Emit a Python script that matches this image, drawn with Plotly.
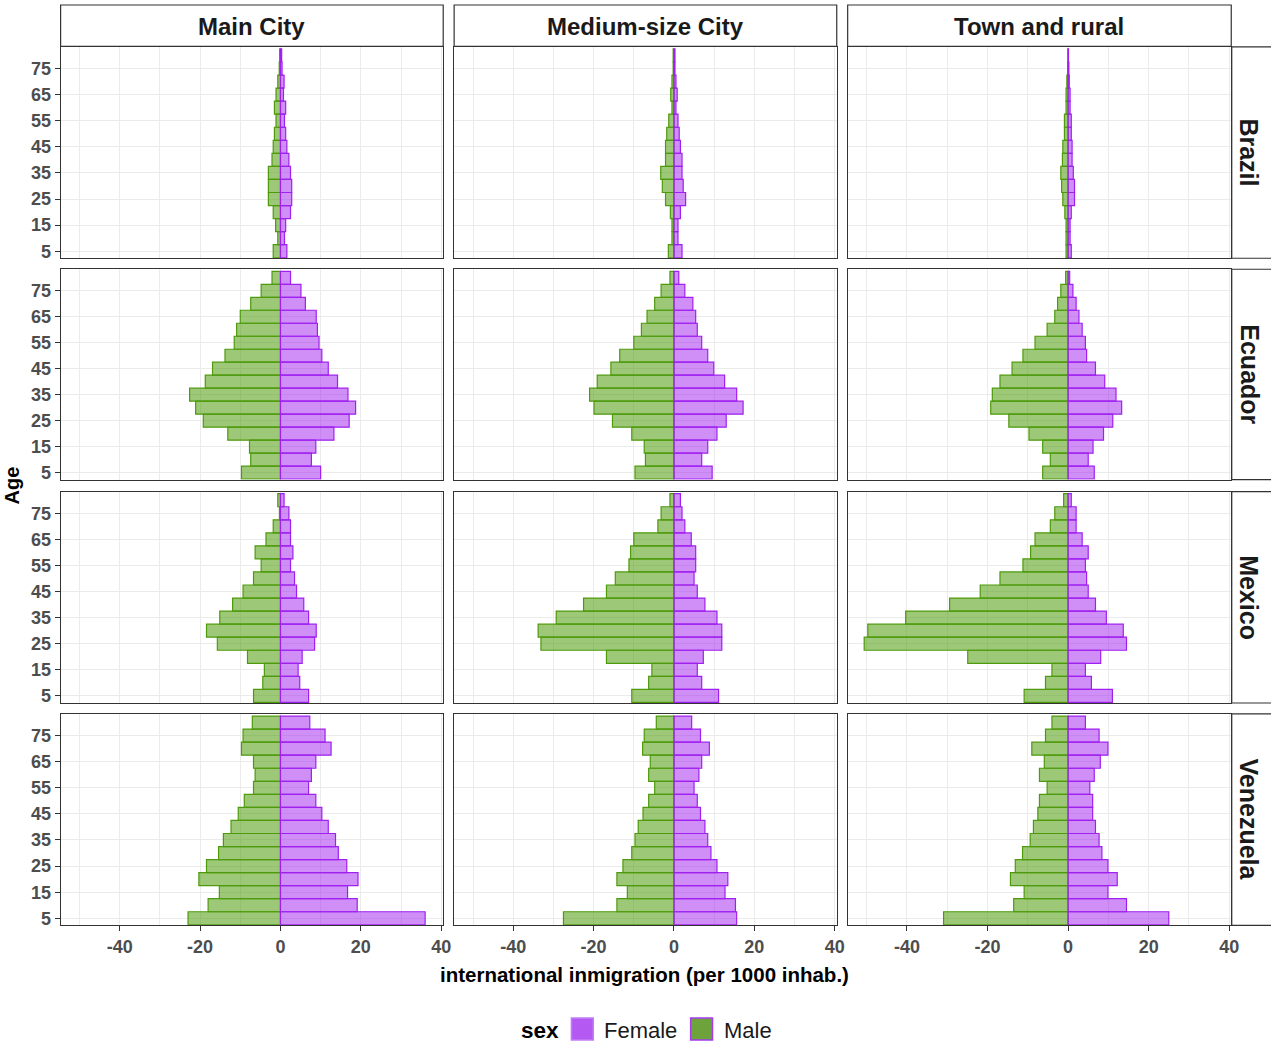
import plotly.graph_objects as go

# ---------------- data ----------------
ages = [5, 10, 15, 20, 25, 30, 35, 40, 45, 50, 55, 60, 65, 70, 75, 80]
countries = ["Brazil", "Ecuador", "Mexico", "Venezuela"]
areas = ["Main City", "Medium-size City", "Town and rural"]

brazil_main_male = [-1.8, -0.66, -1.2, -1.8, -3.0, -3.0, -3.0, -2.1, -1.8, -1.5, -1.1, -1.5, -1.1, -0.66, -0.3, -0.2]
brazil_main_female = [1.6, 1.0, 1.3, 2.5, 2.8, 2.8, 2.5, 2.1, 1.6, 1.3, 1.0, 1.3, 0.75, 0.9, 0.4, 0.3]
brazil_medium_male = [-1.4, -0.5, -0.5, -0.9, -2.1, -2.9, -3.3, -2.1, -2.1, -1.8, -1.3, -0.5, -0.8, -0.5, -0.2, -0.2]
brazil_medium_female = [2.0, 1.0, 1.0, 1.6, 2.9, 2.3, 2.0, 2.0, 1.6, 1.3, 1.0, 0.5, 0.8, 0.5, 0.25, 0.25]
brazil_town_male = [-0.5, -0.5, -0.5, -0.8, -1.3, -1.6, -1.8, -1.4, -1.3, -0.9, -0.9, -0.5, -0.5, -0.3, -0.1, -0.05]
brazil_town_female = [0.8, 0.5, 0.5, 0.8, 1.6, 1.6, 1.3, 1.0, 1.0, 0.8, 0.8, 0.5, 0.5, 0.3, 0.2, 0.1]

ecuador_main_male = [-9.7, -7.4, -7.7, -13.1, -19.2, -21.1, -22.6, -18.7, -16.9, -13.8, -11.5, -10.9, -10.0, -7.4, -4.8, -2.1]
ecuador_main_female = [10.0, 7.7, 8.8, 13.3, 17.1, 18.7, 16.8, 14.2, 11.9, 10.3, 9.6, 9.2, 8.9, 6.2, 5.1, 2.5]
ecuador_medium_male = [-9.7, -7.1, -7.4, -10.5, -15.3, -19.9, -21.0, -19.1, -15.7, -13.5, -10.0, -8.1, -6.7, -4.8, -3.2, -1.0]
ecuador_medium_female = [9.5, 6.9, 8.4, 10.7, 13.0, 17.2, 15.6, 12.6, 9.9, 8.4, 6.9, 5.8, 5.4, 4.7, 2.7, 1.2]
ecuador_town_male = [-6.3, -4.4, -6.3, -9.7, -14.7, -19.2, -18.8, -16.9, -13.9, -11.2, -8.2, -5.2, -3.3, -2.6, -1.8, -0.6]
ecuador_town_female = [6.5, 5.0, 6.2, 8.8, 11.1, 13.3, 11.9, 9.1, 6.8, 4.6, 4.3, 3.5, 2.7, 2.0, 1.2, 0.4]

mexico_main_male = [-6.7, -4.4, -4.0, -8.2, -15.7, -18.4, -15.1, -11.9, -9.3, -6.7, -4.8, -6.3, -3.6, -1.8, -0.25, -0.66]
mexico_main_female = [7.0, 4.8, 4.4, 5.4, 8.5, 8.9, 7.0, 5.8, 4.0, 3.5, 2.5, 3.1, 2.5, 2.5, 2.1, 0.9]
mexico_medium_male = [-10.5, -6.3, -5.5, -16.8, -33.1, -33.8, -29.3, -22.5, -16.8, -14.6, -11.2, -10.8, -10.0, -4.0, -3.2, -1.0]
mexico_medium_female = [11.1, 6.9, 5.8, 7.3, 11.9, 11.9, 10.7, 7.7, 5.8, 5.0, 5.4, 5.4, 4.3, 2.7, 2.0, 1.6]
mexico_town_male = [-10.9, -5.6, -4.0, -24.9, -50.6, -49.7, -40.3, -29.4, -21.8, -16.9, -11.2, -9.3, -8.2, -4.4, -3.3, -1.1]
mexico_town_female = [11.0, 5.8, 4.3, 8.1, 14.5, 13.7, 9.5, 6.8, 5.0, 4.6, 4.3, 5.0, 3.5, 2.0, 2.0, 0.8]

venezuela_main_male = [-23.0, -18.0, -15.2, -20.3, -18.4, -15.4, -14.2, -12.3, -10.5, -9.0, -6.7, -6.3, -6.7, -9.7, -9.3, -7.0]
venezuela_main_female = [36.0, 19.1, 16.7, 19.3, 16.5, 14.4, 13.7, 11.9, 10.3, 8.8, 7.0, 7.7, 8.8, 12.6, 11.1, 7.3]
venezuela_medium_male = [-27.5, -14.2, -11.6, -14.2, -12.7, -10.5, -9.7, -8.9, -7.7, -6.3, -4.8, -6.3, -5.9, -7.8, -7.4, -4.4]
venezuela_medium_female = [15.6, 15.3, 12.7, 13.4, 10.7, 9.2, 8.4, 7.7, 6.6, 5.8, 5.0, 6.2, 6.9, 8.8, 6.6, 4.4]
venezuela_town_male = [-30.9, -13.5, -10.9, -14.3, -13.1, -11.3, -9.4, -8.6, -7.5, -7.1, -5.2, -7.1, -5.9, -9.0, -5.6, -4.0]
venezuela_town_female = [25.0, 14.5, 9.9, 12.2, 9.9, 8.4, 7.7, 6.8, 6.1, 6.1, 5.4, 6.5, 8.0, 9.9, 7.7, 4.3]

male = [
    [brazil_main_male, brazil_medium_male, brazil_town_male],
    [ecuador_main_male, ecuador_medium_male, ecuador_town_male],
    [mexico_main_male, mexico_medium_male, mexico_town_male],
    [venezuela_main_male, venezuela_medium_male, venezuela_town_male],
]
female = [
    [brazil_main_female, brazil_medium_female, brazil_town_female],
    [ecuador_main_female, ecuador_medium_female, ecuador_town_female],
    [mexico_main_female, mexico_medium_female, mexico_town_female],
    [venezuela_main_female, venezuela_medium_female, venezuela_town_female],
]

x_tickvals = [-40, -20, 0, 20, 40]
x_ticktext = ["-40", "-20", "0", "20", "40"]
x_minor = [-50, -30, -10, 10, 30]
y_tickvals = [5, 15, 25, 35, 45, 55, 65, 75]
y_ticktext = ["5", "15", "25", "35", "45", "55", "65", "75"]

# ---------------- layout geometry ----------------
W, H = 1279, 1046
col_px = [(61, 446), (457, 842), (853, 1239)]
row_px = [(47, 259), (270, 481), (493, 705), (716, 928)]
XR = [-54.7, 40.5]
YR = [2.3, 83.3]

FONT = "Liberation Sans, Arial, sans-serif"
MALE_FILL = "rgba(77,154,10,0.55)"
MALE_LINE = "#4E9A0C"
FEM_FILL = "rgba(160,32,240,0.5)"
FEM_LINE = "#A020F0"
TICK_FONT = dict(family=FONT, size=18, color="#4D4D4D", weight="bold")

def px_x(p):
    return p / W

def px_y(p):
    return 1 - p / H

fig = go.Figure()
layout = dict(
    width=W, height=H, autosize=False,
    margin=dict(l=0, r=0, t=0, b=0),
    paper_bgcolor="white", plot_bgcolor="white",
    barmode="overlay", showlegend=False,
    font=dict(family=FONT, color="#1A1A1A"),
)

for r in range(4):
    for c in range(3):
        k = r * 3 + c + 1
        xa = "x" if k == 1 else f"x{k}"
        ya = "y" if k == 1 else f"y{k}"
        fig.add_trace(go.Bar(
            x=male[r][c], y=ages, orientation="h", width=5,
            marker=dict(color=MALE_FILL, line=dict(color=MALE_LINE, width=1.2)),
            xaxis=xa, yaxis=ya, name="Male", showlegend=False,
        ))
        fig.add_trace(go.Bar(
            x=female[r][c], y=ages, orientation="h", width=5,
            marker=dict(color=FEM_FILL, line=dict(color=FEM_LINE, width=1.2)),
            xaxis=xa, yaxis=ya, name="Female", showlegend=False,
        ))
        bottom = (r == 3)
        left = (c == 0)
        layout["xaxis" if k == 1 else f"xaxis{k}"] = dict(
            domain=[px_x(col_px[c][0]), px_x(col_px[c][1])],
            anchor=ya, range=XR, fixedrange=True,
            tickmode="array", tickvals=x_tickvals, ticktext=x_ticktext,
            showticklabels=bottom,
            ticks="outside" if bottom else "", ticklen=5, tickwidth=1, tickcolor="#333333",
            tickfont=TICK_FONT,
            showgrid=True, gridcolor="#EBEBEB", gridwidth=1.2,
            minor=dict(tickvals=x_minor, showgrid=True, gridcolor="#EBEBEB", gridwidth=1.2, ticks=""),
            zeroline=False,
            showline=True, mirror=True, linecolor="#333333", linewidth=1.2,
        )
        layout["yaxis" if k == 1 else f"yaxis{k}"] = dict(
            domain=[px_y(row_px[r][1]), px_y(row_px[r][0])],
            anchor=xa, range=YR, fixedrange=True,
            tickmode="array", tickvals=y_tickvals, ticktext=y_ticktext,
            showticklabels=left,
            ticks="outside" if left else "", ticklen=5, tickwidth=1, tickcolor="#333333",
            tickfont=TICK_FONT,
            showgrid=True, gridcolor="#EBEBEB", gridwidth=1.2,
            zeroline=False,
            showline=True, mirror=True, linecolor="#333333", linewidth=1.2,
        )

shapes = []
annotations = []
# top strips
for c in range(3):
    shapes.append(dict(type="rect", xref="paper", yref="paper",
                       x0=px_x(col_px[c][0]), x1=px_x(col_px[c][1]),
                       y0=px_y(46.5), y1=px_y(5),
                       fillcolor="white", line=dict(color="#333333", width=1.2), layer="below"))
    annotations.append(dict(text=f"<b>{areas[c]}</b>", xref="paper", yref="paper",
                            x=px_x((col_px[c][0] + col_px[c][1]) / 2), y=px_y(27),
                            xanchor="center", yanchor="middle", showarrow=False,
                            font=dict(family=FONT, size=24, color="#1A1A1A")))
# right strips (open on the right edge, which is cut in the original)
for r in range(4):
    xl = px_x(1239.5)
    xr = 1.0
    yb = px_y(row_px[r][1])
    yt = px_y(row_px[r][0])
    shapes.append(dict(type="path", xref="paper", yref="paper",
                       path=f"M {xr},{yb} L {xl},{yb} L {xl},{yt} L {xr},{yt}",
                       fillcolor="white", line=dict(color="#333333", width=1.2), layer="below"))
    annotations.append(dict(text=f"<b>{countries[r]}</b>", xref="paper", yref="paper",
                            x=px_x(1257), y=px_y((row_px[r][0] + row_px[r][1]) / 2),
                            xanchor="center", yanchor="middle", showarrow=False, textangle=90,
                            font=dict(family=FONT, size=25, color="#1A1A1A")))

# axis titles
annotations.append(dict(text="<b>international inmigration (per 1000 inhab.)</b>",
                        xref="paper", yref="paper", x=px_x(649), y=px_y(977),
                        xanchor="center", yanchor="middle", showarrow=False,
                        font=dict(family=FONT, size=20.5, color="black")))
annotations.append(dict(text="<b>Age</b>", xref="paper", yref="paper",
                        x=px_x(12), y=px_y(487), xanchor="center", yanchor="middle",
                        showarrow=False, textangle=-90,
                        font=dict(family=FONT, size=20, color="black")))

# legend (drawn manually)
annotations.append(dict(text="<b>sex</b>", xref="paper", yref="paper",
                        x=px_x(522), y=px_y(1033), xanchor="left", yanchor="middle",
                        showarrow=False, font=dict(family=FONT, size=22.5, color="black")))
shapes.append(dict(type="rect", xref="paper", yref="paper",
                   x0=px_x(575), x1=px_x(597), y0=px_y(1043), y1=px_y(1021),
                   fillcolor="#B45AF2", line=dict(color="#C27DF6", width=1.5)))
annotations.append(dict(text="Female", xref="paper", yref="paper",
                        x=px_x(606), y=px_y(1033), xanchor="left", yanchor="middle",
                        showarrow=False, font=dict(family=FONT, size=22, color="#1A1A1A")))
shapes.append(dict(type="rect", xref="paper", yref="paper",
                   x0=px_x(695), x1=px_x(717), y0=px_y(1043), y1=px_y(1021),
                   fillcolor="#6DA33A", line=dict(color="#A43BEF", width=1.5)))
annotations.append(dict(text="Male", xref="paper", yref="paper",
                        x=px_x(727), y=px_y(1033), xanchor="left", yanchor="middle",
                        showarrow=False, font=dict(family=FONT, size=22, color="#1A1A1A")))

layout["shapes"] = shapes
layout["annotations"] = annotations
fig.update_layout(**layout)

fig.write_html(
    "out.html",
    config={"displayModeBar": False},
    post_script=(
        "document.body.style.margin='0';document.body.style.padding='0';"
        "document.documentElement.style.overflow='hidden';document.body.style.overflow='hidden';"
    ),
)
